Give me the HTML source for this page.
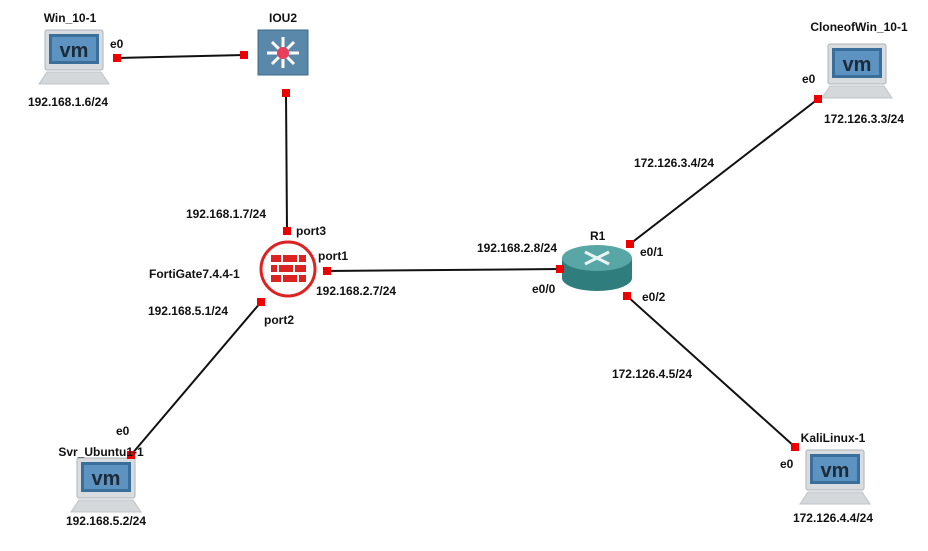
<!DOCTYPE html>
<html><head><meta charset="utf-8"><style>
body{margin:0;background:#fff;width:928px;height:546px;overflow:hidden}
svg text{font-family:"Liberation Sans",Tahoma,sans-serif;font-weight:bold;font-size:12px;fill:#111}
</style></head><body>
<svg width="928" height="546" xmlns="http://www.w3.org/2000/svg">
<defs>
<g id="vm">
<rect x="0" y="0" width="58" height="40" rx="2" fill="#d9dcdf" stroke="#aeb3b8"/>
<rect x="4" y="4" width="50" height="30" fill="#3a6f9c"/>
<rect x="7" y="7" width="44" height="24" fill="#5d93c1"/>
<text x="29" y="27" text-anchor="middle" style="font-size:20px;fill:#1d2a38;font-weight:bold">vm</text>
<path d="M2 42 L56 42 L64 54 L-6 54 Z" fill="#d5d8da" stroke="#c0c4c8"/>
</g>
</defs>
<g stroke="#111" stroke-width="2">
<line x1="117" y1="58" x2="244" y2="55"/>
<line x1="286" y1="93" x2="287" y2="231"/>
<line x1="327" y1="271" x2="560" y2="269"/>
<line x1="261" y1="302" x2="131" y2="455"/>
<line x1="630" y1="244" x2="818" y2="99"/>
<line x1="627" y1="296" x2="795" y2="447"/>
</g>
<use href="#vm" x="45" y="30"/>
<use href="#vm" x="828" y="44"/>
<use href="#vm" x="77" y="458"/>
<use href="#vm" x="806" y="450"/>
<!-- IOU2 -->
<rect x="258" y="30" width="50" height="45" fill="#5a88aa" stroke="#3f6a8a"/>
<g stroke="#fff" stroke-width="3">
<line x1="283" y1="37" x2="283" y2="68"/><line x1="267" y1="53" x2="299" y2="53"/>
<line x1="272" y1="42" x2="294" y2="64"/><line x1="294" y1="42" x2="272" y2="64"/>
</g>
<circle cx="283" cy="53" r="6" fill="#e83e5c"/>
<!-- FortiGate -->
<circle cx="288" cy="269" r="27" fill="#fff" stroke="#d22" stroke-width="3"/>
<g fill="#d22">
<rect x="271" y="255" width="10" height="7"/><rect x="283" y="255" width="14" height="7"/><rect x="299" y="255" width="7" height="7"/>
<rect x="271" y="265" width="6" height="7"/><rect x="279" y="265" width="14" height="7"/><rect x="295" y="265" width="11" height="7"/>
<rect x="271" y="275" width="10" height="7"/><rect x="283" y="275" width="14" height="7"/><rect x="299" y="275" width="7" height="7"/>
</g>
<!-- R1 -->
<path d="M562 258 L562 278 A35 13 0 0 0 632 278 L632 258 Z" fill="#2f7d7d"/>
<ellipse cx="597" cy="258" rx="35" ry="13" fill="#58a6a6"/>
<g stroke="#e8f4f4" stroke-width="3"><line x1="585" y1="252" x2="609" y2="264"/><line x1="609" y1="252" x2="585" y2="264"/></g>
<g fill="#e00">
<rect x="113" y="54" width="8" height="8"/><rect x="240" y="51" width="8" height="8"/>
<rect x="282" y="89" width="8" height="8"/><rect x="283" y="227" width="8" height="8"/>
<rect x="323" y="267" width="8" height="8"/><rect x="257" y="298" width="8" height="8"/>
<rect x="556" y="265" width="8" height="8"/><rect x="626" y="240" width="8" height="8"/>
<rect x="623" y="292" width="8" height="8"/><rect x="814" y="95" width="8" height="8"/>
<rect x="127" y="451" width="8" height="8"/><rect x="791" y="443" width="8" height="8"/>
</g>
<text x="70" y="22" text-anchor="middle">Win_10-1</text>
<text x="110" y="48">e0</text>
<text x="68" y="106" text-anchor="middle">192.168.1.6/24</text>
<text x="283" y="22" text-anchor="middle">IOU2</text>
<text x="859" y="31" text-anchor="middle">CloneofWin_10-1</text>
<text x="802" y="83">e0</text>
<text x="864" y="123" text-anchor="middle">172.126.3.3/24</text>
<text x="674" y="167" text-anchor="middle">172.126.3.4/24</text>
<text x="226" y="218" text-anchor="middle">192.168.1.7/24</text>
<text x="296" y="235">port3</text>
<text x="318" y="260">port1</text>
<text x="149" y="278">FortiGate7.4.4-1</text>
<text x="316" y="295">192.168.2.7/24</text>
<text x="188" y="315" text-anchor="middle">192.168.5.1/24</text>
<text x="264" y="324">port2</text>
<text x="517" y="252" text-anchor="middle">192.168.2.8/24</text>
<text x="590" y="240">R1</text>
<text x="640" y="256">e0/1</text>
<text x="532" y="293">e0/0</text>
<text x="642" y="301">e0/2</text>
<text x="652" y="378" text-anchor="middle">172.126.4.5/24</text>
<text x="116" y="435">e0</text>
<text x="101" y="456" text-anchor="middle">Svr_Ubuntu1-1</text>
<text x="106" y="525" text-anchor="middle">192.168.5.2/24</text>
<text x="833" y="442" text-anchor="middle">KaliLinux-1</text>
<text x="780" y="468">e0</text>
<text x="833" y="522" text-anchor="middle">172.126.4.4/24</text>
</svg>
</body></html>
